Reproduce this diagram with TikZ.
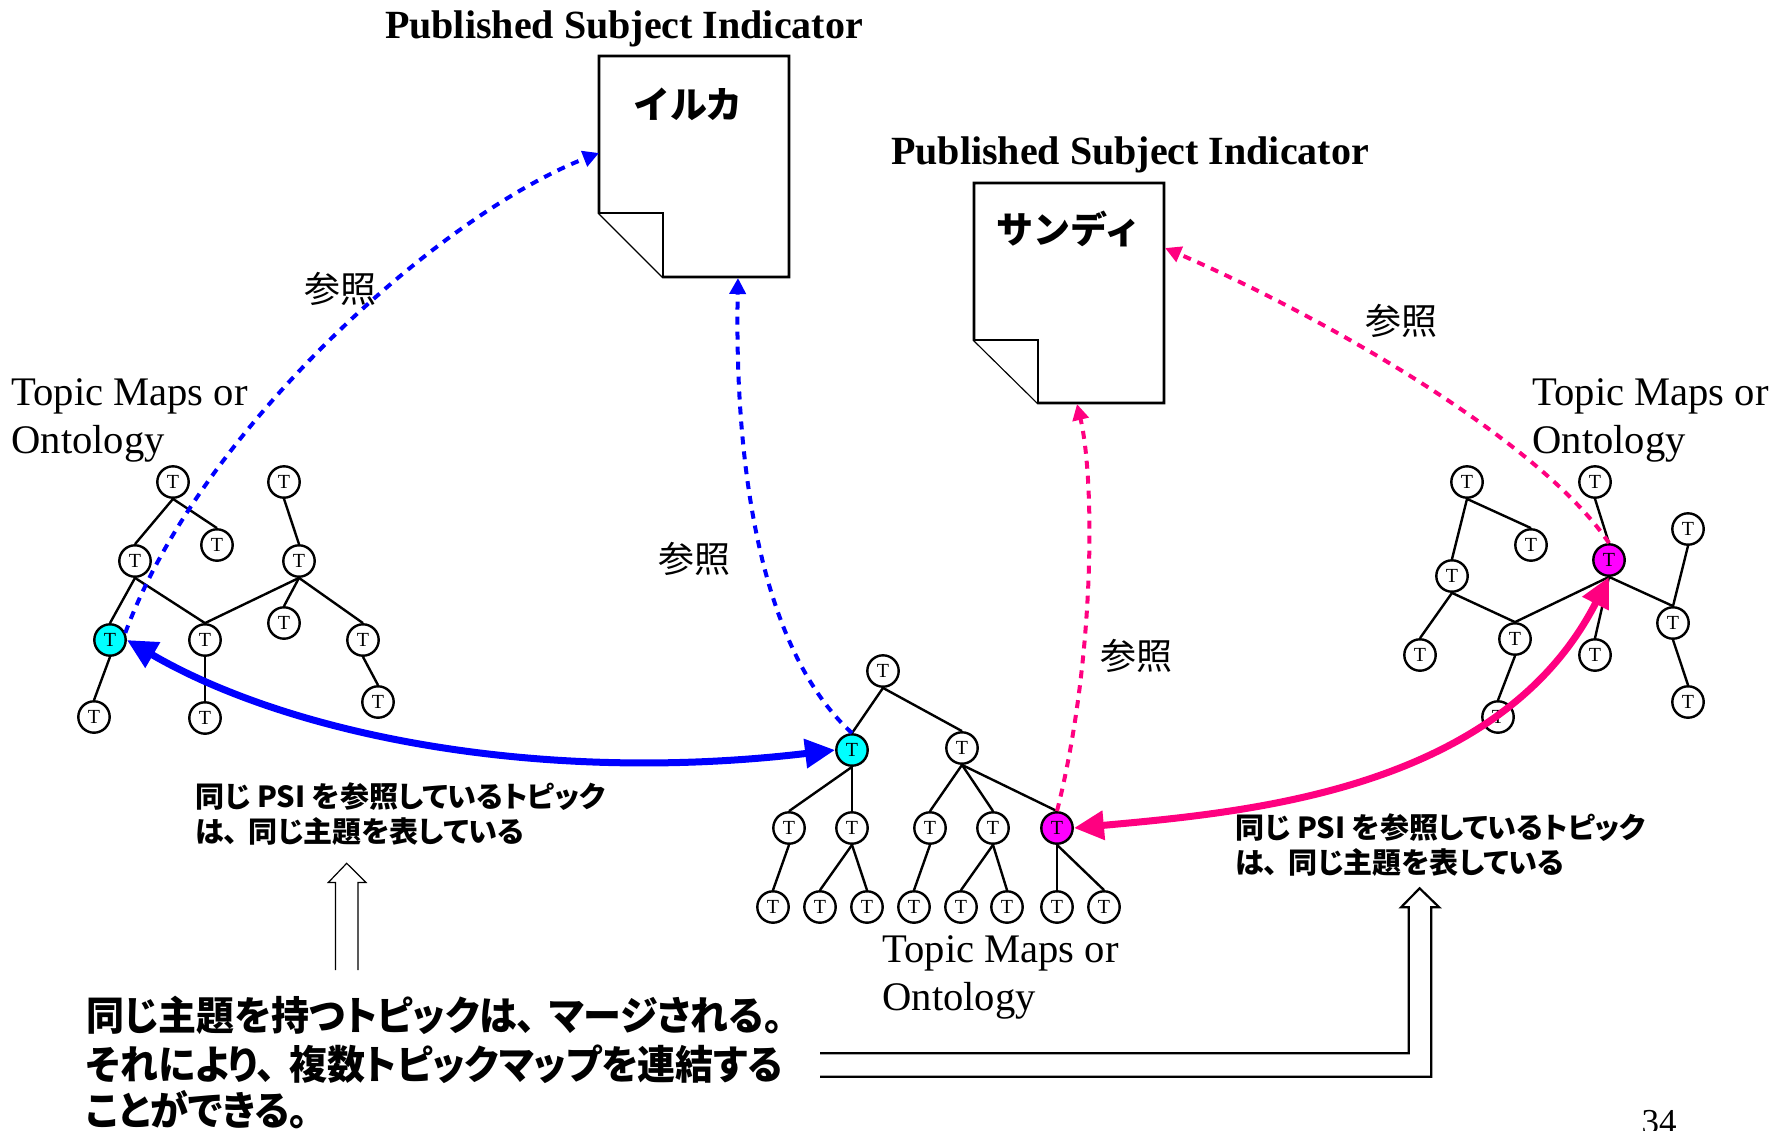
\documentclass[tikz,border=0pt]{standalone}
\usepackage{fontspec}
\setmainfont{Liberation Serif}
\newfontfamily\jp{Noto Sans CJK JP}[RawFeature={+palt}]
\newfontfamily\jpn{Noto Sans CJK JP}
\usetikzlibrary{arrows.meta}
\definecolor{pinkc}{RGB}{255,0,128}
\definecolor{cyanc}{RGB}{0,255,255}
\definecolor{magc}{RGB}{255,0,255}
\newcommand\fsz[1]{\fontsize{#1}{#1}\selectfont}
\newcommand\tc{、\hspace{0.35em}}
\begin{document}
\begin{tikzpicture}[x=0.5pt,y=-0.5pt,
  tn/.style={circle, draw, line width=1.2pt, fill=white, minimum size=15.7pt, inner sep=0pt, font=\fsz{10pt}},
  tcy/.style={tn, fill=cyanc},
  tmg/.style={tn, fill=magc},
  edg/.style={line width=1.2pt},
  docshape/.style={draw, line width=1.3pt, fill=white, line join=miter},
  dashblue/.style={draw=blue, line width=2pt, dash pattern=on 4pt off 3.5pt, -{Triangle[length=8pt,width=8pt]}},
  dashpink/.style={draw=pinkc, line width=2pt, dash pattern=on 4pt off 3.5pt, -{Triangle[length=8pt,width=8pt]}},
  thickarr/.style={line width=3.5pt, {Triangle[length=15pt,width=14pt]}-{Triangle[length=15pt,width=14pt]}},
  ttl/.style={anchor=base, font=\bfseries\fsz{20pt}, inner sep=0pt},
  tmo/.style={anchor=base west, font=\fsz{20.3pt}, inner sep=0pt},
  ref/.style={font=\jpn\fsz{18pt}, inner sep=0pt},
  psi/.style={anchor=west, font=\jp\bfseries\fsz{14.5pt}, inner sep=0pt},
  big/.style={anchor=west, font=\jp\bfseries\fsz{20pt}, inner sep=0pt},
  dlab/.style={font=\jpn\bfseries\fsz{18.5pt}, inner sep=0pt},
  hollow/.style={draw, line width=0.6pt, line join=miter}
]
\useasboundingbox (0,0) rectangle (1776,1130);
\clip (0,0) rectangle (1776,1130);

% titles
\node[ttl] (t1) at (624,38) {Published Subject Indicator};
\node[ttl] (t2) at (1130,164) {Published Subject Indicator};

% documents
\draw[docshape] (599,56) -- (789,56) -- (789,277) -- (663,277) -- (599,213) -- cycle;
\draw[docshape] (599,213) -- (663,213) -- (663,277);
\node[dlab] (d1lab) at (688,104) {イルカ};
\draw[docshape] (974,183) -- (1164,183) -- (1164,403) -- (1038,403) -- (974,340) -- cycle;
\draw[docshape] (974,340) -- (1038,340) -- (1038,403);
\node[dlab] (d2lab) at (1069,229) {サンディ};
\coordinate (d1L) at (599,153);
\coordinate (d1B) at (738,278);
\coordinate (d2B) at (1077,404);
\coordinate (d2R) at (1165,248);

% Topic Maps labels
\node[tmo] (tmL1) at (11,405) {Topic Maps or};
\node[tmo] (tmL2) at (11,453) {Ontology};
\node[tmo] (tmR1) at (1532,405) {Topic Maps or};
\node[tmo] (tmR2) at (1532,453) {Ontology};
\node[tmo] (tmM1) at (882,962) {Topic Maps or};
\node[tmo] (tmM2) at (882,1010) {Ontology};

% left tree
\node[tn] (A1) at (173,482) {T};
\node[tn] (A2) at (217,545) {T};
\node[tn] (A3) at (135,561) {T};
\node[tcy] (A4) at (110,640) {T};
\node[tn] (A5) at (94,717) {T};
\node[tn] (A6) at (205,640) {T};
\node[tn] (A7) at (205,718) {T};
\node[tn] (B1) at (284,482) {T};
\node[tn] (B2) at (299,561) {T};
\node[tn] (B3) at (284,623) {T};
\node[tn] (B4) at (363,640) {T};
\node[tn] (B5) at (378,702) {T};
\foreach \p/\c in {A1/A3,A1/A2,A3/A4,A3/A6,A4/A5,A6/A7,B1/B2,B2/A6,B2/B3,B2/B4,B4/B5}
  \draw[edg] (\p.south) -- (\c.north);

% middle tree
\node[tn] (C1) at (883,671) {T};
\node[tcy] (C2) at (852,750) {T};
\node[tn] (C3) at (962,748) {T};
\node[tn] (C4) at (789,828) {T};
\node[tn] (C5) at (852,828) {T};
\node[tn] (C6) at (930,828) {T};
\node[tn] (C7) at (993,828) {T};
\node[tmg] (C8) at (1057,828) {T};
\node[tn] (D1) at (773,907) {T};
\node[tn] (D2) at (820,907) {T};
\node[tn] (D3) at (867,907) {T};
\node[tn] (D4) at (914,907) {T};
\node[tn] (D5) at (961,907) {T};
\node[tn] (D6) at (1007,907) {T};
\node[tn] (D7) at (1057,907) {T};
\node[tn] (D8) at (1104,907) {T};
\foreach \p/\c in {C1/C2,C1/C3,C2/C4,C2/C5,C4/D1,C5/D2,C5/D3,C3/C6,C3/C7,C3/C8,C6/D4,C7/D5,C7/D6,C8/D7,C8/D8}
  \draw[edg] (\p.south) -- (\c.north);

% right tree
\node[tn] (E1) at (1467,482) {T};
\node[tn] (E2) at (1531,545) {T};
\node[tn] (E3) at (1452,576) {T};
\node[tn] (E4) at (1420,655) {T};
\node[tn] (E5) at (1515,639) {T};
\node[tn] (E6) at (1498,717) {T};
\node[tn] (F1) at (1595,482) {T};
\node[tmg] (F2) at (1609,560) {T};
\node[tn] (F3) at (1595,655) {T};
\node[tn] (F4) at (1688,529) {T};
\node[tn] (F5) at (1673,623) {T};
\node[tn] (F6) at (1688,702) {T};
\foreach \p/\c in {E1/E3,E1/E2,E3/E4,E3/E5,E5/E6,F2/E5,F1/F2,F2/F3,F2/F5,F4/F5,F5/F6}
  \draw[edg] (\p.south) -- (\c.north);

% reference labels
\node[ref] (r1) at (340,289) {参照};
\node[ref] (r2) at (694,559) {参照};
\node[ref] (r3) at (1136,656) {参照};
\node[ref] (r4) at (1401,321) {参照};

% dashed reference arrows
\draw[dashblue] (A4.25) .. controls (200,430) and (440,215) .. (d1L);
\draw[dashblue] (C2.north) .. controls (750,640) and (735,430) .. (d1B);
\draw[dashpink] (C8.north) .. controls (1095,660) and (1095,480) .. (d2B);
\draw[dashpink] (F2.north) .. controls (1540,440) and (1320,315) .. (d2R);

% thick merge arrows
\draw[thickarr, draw=blue] (A4.east) .. controls (290,735) and (540,785) .. (C2.west);
\draw[thickarr, draw=pinkc] (C8.east) .. controls (1250,812) and (1500,790) .. (F2.south);

% PSI texts
\node[psi] (pL1) at (195,797) {同じ PSI を参照しているトピック};
\node[psi] (pL2) at (195,832) {は\tc 同じ主題を表している};
\node[psi] (pR1) at (1235,828) {同じ PSI を参照しているトピック};
\node[psi] (pR2) at (1235,863) {は\tc 同じ主題を表している};

% bottom text
\node[big] (b1) at (86,1015) {\scalebox{0.95}[1]{同じ主題を持つトピックは\tc マージされる。}};
\node[big] (b2) at (86,1064) {\scalebox{0.95}[1]{それにより\tc 複数トピックマップを連結する}};
\node[big] (b3) at (86,1110) {\scalebox{0.95}[1]{ことができる。}};

% hollow arrows
\draw[hollow] (335.5,970) -- (335.5,882.5) -- (328.3,882.5) -- (346.7,863.3) -- (366,882.5) -- (358,882.5) -- (358,970);
\draw[hollow, line width=1.1pt] (820,1053.3) -- (1408.8,1053.3) -- (1408.8,907.3) -- (1401,907.3) -- (1419.6,888.3) -- (1439.2,907.3) -- (1431.3,907.3) -- (1431.3,1076.7) -- (820,1076.7);

% page number
\node[anchor=base, font=\fsz{17.5pt}, inner sep=0pt] (pg) at (1659,1133) {34};
\end{tikzpicture}
\end{document}
